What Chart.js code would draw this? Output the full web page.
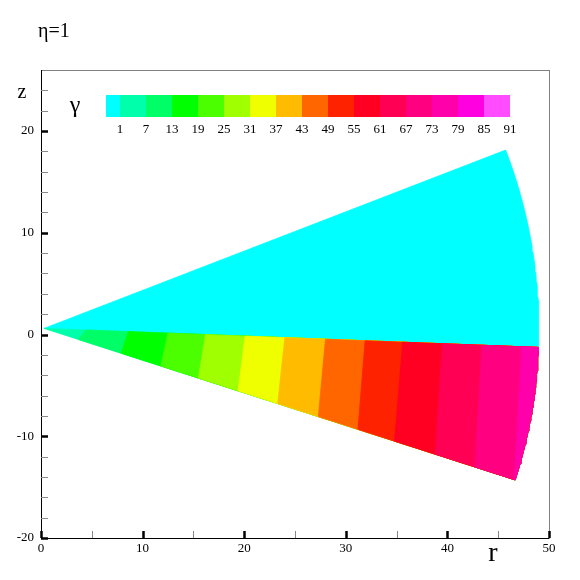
<!DOCTYPE html>
<html>
<head>
<meta charset="utf-8">
<script src="https://cdn.jsdelivr.net/npm/chart.js@4.4.0/dist/chart.umd.min.js"></script>
<style>
  html, body { margin: 0; padding: 0; background: #fff; }
  canvas { display: block; }
</style>
</head>
<body>
<canvas id="myChart" width="580" height="580"></canvas>
<script>
// gamma levels in the colour bar
const levels = [1, 7, 13, 19, 25, 31, 37, 43, 49, 55, 61, 67, 73, 79, 85, 91];
// colour cells of the bar, first one is below level 1
const levelColors = [
  "#00ffff", "#00ffaa", "#00ff66", "#00ff00",
  "#4cff00", "#a0ff00", "#f0ff00", "#ffbb00",
  "#ff6600", "#ff2200", "#ff0022", "#ff0055",
  "#ff0080", "#ff00aa", "#ff00e0", "#ff4cff",
];

// wedge (r, z units, angles in degrees)
const apex = [0.3, 0.6];
const outerRadius = 48.7;
const upperAngle = 21.1;
const splitAngle = -2.2;
const lowerAngle = -17.8;

// lower half: r where each gamma band starts (at the split line / at the lower edge)
const bandStartTop = [0.3, 4.4, 8.6, 12.5, 16.2, 20.1, 24.0, 28.0, 31.9, 35.6, 39.5, 43.4, 47.3];
const bandStartBottom = [0.3, 3.7, 7.9, 11.8, 15.5, 19.4, 23.3, 27.3, 31.2, 34.8, 38.8, 42.7, 46.6];
const bandCells = [1, 2, 3, 4, 5, 6, 7, 8, 9, 10, 11, 12, 13];
const upperCell = 0;

// axis ticks
const xMajor = [0, 10, 20, 30, 40, 50];
const yMajor = [-20, -10, 0, 10, 20];

const rad = (deg) => (deg * Math.PI) / 180;

const arc = (r, a0, a1) => {
  const pts = [];
  const n = 40;
  for (let i = 0; i <= n; i++) {
    const a = rad(a0 + ((a1 - a0) * i) / n);
    pts.push({ x: apex[0] + r * Math.cos(a), y: apex[1] + r * Math.sin(a) });
  }
  return pts;
};

const onLine = (x, angle) => ({ x: x, y: apex[1] + (x - apex[0]) * Math.tan(rad(angle)) });

const datasets = [];

const upper = [{ x: apex[0], y: apex[1] }].concat(arc(outerRadius, splitAngle, upperAngle));
upper.push({ x: apex[0], y: apex[1] });
datasets.push({
  data: upper,
  backgroundColor: levelColors[upperCell],
  borderColor: levelColors[upperCell],
});

// each band covers from its start out to the rim; the next band is painted over it
for (let i = 0; i < bandCells.length; i++) {
  const top = onLine(bandStartTop[i], splitAngle);
  const bottom = onLine(bandStartBottom[i], lowerAngle);
  const pts = [top, bottom].concat(arc(outerRadius, lowerAngle, splitAngle));
  pts.push(top);
  datasets.push({
    data: pts,
    backgroundColor: levelColors[bandCells[i]],
    borderColor: levelColors[bandCells[i]],
  });
}

datasets.forEach((d, i) => {
  d.showLine = true;
  d.fill = "shape";
  d.borderWidth = 0.8;
  d.pointRadius = 0;
  d.tension = 0;
  d.order = datasets.length - i; // later bands on top
});

const serif = "'Liberation Serif', 'Times New Roman', serif";

const decor = {
  id: "decor",
  afterDraw(chart) {
    const ctx = chart.ctx;
    const a = chart.chartArea;
    const xs = chart.scales.x;
    const ys = chart.scales.y;
    ctx.save();

    // frame
    ctx.strokeStyle = "#808080";
    ctx.lineWidth = 1;
    ctx.strokeRect(a.left + 0.5, a.top + 0.5, a.right - a.left, a.bottom - a.top);
    ctx.strokeStyle = "#000";
    ctx.beginPath();
    ctx.moveTo(a.left + 0.5, a.top);
    ctx.lineTo(a.left + 0.5, a.bottom + 0.5);
    ctx.lineTo(a.right, a.bottom + 0.5);
    ctx.stroke();

    // inward ticks
    for (let v = 0; v <= 50; v += 5) {
      const px = Math.round(xs.getPixelForValue(v));
      const major = xMajor.includes(v);
      ctx.strokeStyle = major ? "#000" : "#888";
      ctx.lineWidth = major ? 2.5 : 1;
      ctx.beginPath();
      ctx.moveTo(px + 0.5, a.bottom);
      ctx.lineTo(px + 0.5, a.bottom - 7);
      ctx.stroke();
    }
    for (let v = -20; v <= 24; v += 2) {
      const py = Math.round(ys.getPixelForValue(v));
      const major = yMajor.includes(v);
      ctx.strokeStyle = major ? "#000" : "#888";
      ctx.lineWidth = major ? 2.5 : 1;
      ctx.beginPath();
      ctx.moveTo(a.left, py + 0.5);
      ctx.lineTo(a.left + 7, py + 0.5);
      ctx.stroke();
    }

    // colour bar
    const cell = 26;
    const x1 = 120;
    const top = 95;
    const h = 22;
    for (let i = 0; i < levelColors.length; i++) {
      const left = i === 0 ? x1 - 14 : x1 + (i - 1) * cell;
      const w = i === 0 ? 14 : cell;
      ctx.fillStyle = levelColors[i];
      ctx.fillRect(left, top, w, h);
    }
    ctx.fillStyle = "#000";
    ctx.font = "13px " + serif;
    ctx.textAlign = "center";
    ctx.textBaseline = "middle";
    levels.forEach((lv, i) => ctx.fillText(String(lv), x1 + i * cell, 130));

    // labels
    ctx.font = "24px " + serif;
    ctx.fillText("\u03b3", 75, 106);
    ctx.font = "20px " + serif;
    ctx.fillText("z", 22, 93);
    ctx.font = "28px " + serif;
    ctx.fillText("r", 493, 554);
    ctx.font = "20px " + serif;
    ctx.textAlign = "left";
    ctx.fillText("\u03b7=1", 38, 32);
    ctx.restore();
  },
};

const chart = new Chart(document.getElementById("myChart"), {
  type: "scatter",
  data: { datasets: datasets },
  options: {
    responsive: false,
    animation: false,
    layout: { padding: { top: 70, right: 31, left: 0, bottom: 0 } },
    plugins: { legend: { display: false }, tooltip: { enabled: false } },
    scales: {
      x: {
        type: "linear",
        min: 0,
        max: 50,
        grid: { display: false, drawTicks: false },
        border: { display: false },
        ticks: {
          stepSize: 10,
          includeBounds: false,
          padding: 3,
          color: "#000",
          font: { family: serif, size: 13 },
          maxRotation: 0,
        },
        afterFit: (s) => { s.height = 42; },
      },
      y: {
        type: "linear",
        min: -20,
        max: 26,
        grid: { display: false, drawTicks: false },
        border: { display: false },
        ticks: {
          stepSize: 10,
          includeBounds: false,
          padding: 7,
          color: "#000",
          font: { family: serif, size: 13 },
          callback: (v) => (yMajor.includes(v) ? String(v) : ""),
        },
        afterFit: (s) => { s.width = 41; },
      },
    },
  },
  plugins: [decor],
});
</script>
</body>
</html>
